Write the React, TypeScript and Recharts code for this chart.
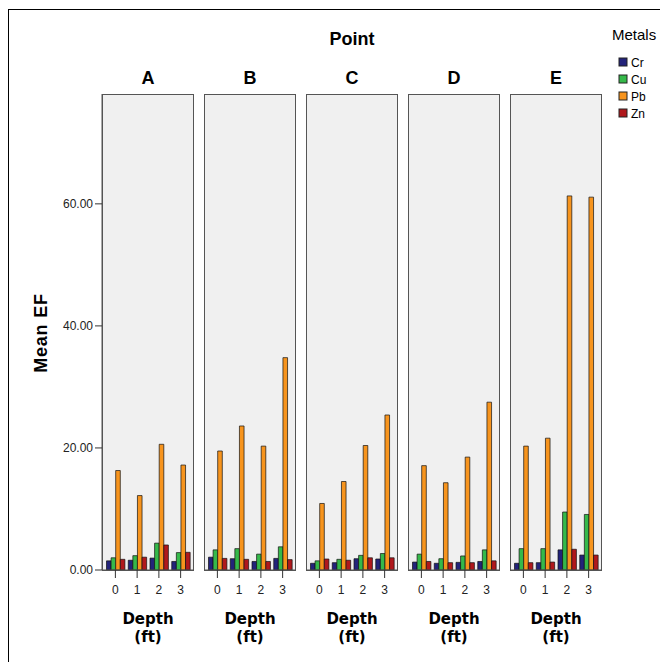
import React from "react";
import { BarChart, Bar, XAxis, YAxis } from "recharts";

const POINTS = ["A", "B", "C", "D", "E"];
const DEPTHS = ["0", "1", "2", "3"];
const METALS = ["Cr", "Cu", "Pb", "Zn"];
const COLORS = ["#23237a", "#35b94a", "#f7941d", "#b0181c"];
const Y_TICKS = [0, 20, 40, 60];

// values per point (A..E), each by depth 0..3
const CR = [
  [1.5, 1.6, 1.95, 1.4],
  [2.1, 1.85, 1.4, 1.9],
  [1.1, 1.2, 1.85, 1.8],
  [1.3, 1.1, 1.25, 1.4],
  [1.1, 1.2, 3.3, 2.45],
];
const CU = [
  [2.0, 2.35, 4.4, 2.85],
  [3.3, 3.5, 2.6, 3.8],
  [1.5, 1.75, 2.4, 2.7],
  [2.6, 1.85, 2.3, 3.3],
  [3.5, 3.5, 9.5, 9.1],
];
const PB = [
  [16.3, 12.2, 20.6, 17.2],
  [19.5, 23.6, 20.3, 34.8],
  [10.9, 14.5, 20.4, 25.4],
  [17.1, 14.3, 18.5, 27.5],
  [20.3, 21.6, 61.3, 61.1],
];
const ZN = [
  [1.75, 2.1, 4.1, 2.9],
  [1.9, 1.75, 1.4, 1.7],
  [1.8, 1.6, 2.0, 2.0],
  [1.4, 1.2, 1.2, 1.5],
  [1.2, 1.3, 3.4, 2.45],
];

const SERIES = [CR, CU, PB, ZN];

const FONT = "'Liberation Sans', Arial, sans-serif";
const PANEL_LEFT = 102;
const PANEL_STEP = 102;
const PANEL_W = 92;
const PANEL_TOP = 94;
const PANEL_H = 476;
const Y_AXIS_W = 60;

function panelData(p: number) {
  return DEPTHS.map((d, j) => {
    const row: any = { depth: d };
    METALS.forEach((m, k) => {
      row[m] = SERIES[k][p][j];
    });
    return row;
  });
}

function Panel({ p }: { p: number }) {
  const plotLeft = PANEL_LEFT + PANEL_STEP * p;
  const first = p === 0;
  const chartLeft = first ? plotLeft - Y_AXIS_W : plotLeft;
  const width = first ? PANEL_W + Y_AXIS_W : PANEL_W;
  return (
    <>
      <div
        style={{
          position: "absolute",
          left: plotLeft,
          top: PANEL_TOP,
          width: PANEL_W,
          height: PANEL_H + 1,
          background: "#f0f0f0",
          border: "1px solid #555",
          boxSizing: "border-box",
        }}
      />
      <div style={{ position: "absolute", left: chartLeft, top: PANEL_TOP }}>
        <BarChart
          width={width}
          height={PANEL_H + 30}
          data={panelData(p)}
          margin={{ top: 0, right: 0, bottom: 0, left: 0 }}
          barGap={0}
          barSize={4.6}
        >
          <XAxis
            dataKey="depth"
            type="category"
            interval={0}
            height={30}
            tickSize={8}
            tickMargin={7}
            padding={{ left: 2.5, right: 2.5 }}
            axisLine={{ stroke: "#555" }}
            tickLine={{ stroke: "#333" }}
            tick={{ fontSize: 12, fill: "#222", fontFamily: FONT }}
          />
          <YAxis
            type="number"
            domain={[0, 78]}
            ticks={Y_TICKS}
            allowDataOverflow
            hide={!first}
            width={Y_AXIS_W}
            tickSize={7}
            tickMargin={2}
            axisLine={{ stroke: "#555" }}
            tickLine={{ stroke: "#333" }}
            tickFormatter={(v: number) => v.toFixed(2)}
            tick={{ fontSize: 12, fill: "#222", fontFamily: FONT }}
          />
          {METALS.map((m, k) => (
            <Bar
              key={m}
              dataKey={m}
              fill={COLORS[k]}
              stroke="#111"
              strokeWidth={0.7}
              isAnimationActive={false}
            />
          ))}
        </BarChart>
      </div>
    </>
  );
}

export default function App() {
  return (
    <div
      style={{
        position: "absolute",
        left: 0,
        top: 0,
        width: 660,
        height: 662,
        overflow: "hidden",
        background: "#fff",
        fontFamily: FONT,
      }}
    >
      <div
        style={{
          position: "absolute",
          left: 8,
          top: 9,
          width: 700,
          height: 700,
          borderTop: "1px solid #000",
          borderLeft: "1px solid #000",
        }}
      />
      {POINTS.map((_, p) => (
        <Panel key={p} p={p} />
      ))}
      <svg
        width={660}
        height={662}
        style={{ position: "absolute", left: 0, top: 0, pointerEvents: "none" }}
      >
        <text x={352} y={45} textAnchor="middle" fontSize={18} fontWeight="bold" fontFamily={FONT} fill="#000">
          Point
        </text>
        {POINTS.map((pt, p) => {
          const cx = PANEL_LEFT + PANEL_STEP * p + PANEL_W / 2;
          return (
            <g key={pt}>
              <text x={cx} y={84} textAnchor="middle" fontSize={18} fontWeight="bold" fontFamily={FONT} fill="#000">
                {pt}
              </text>
              <text x={cx} y={624} textAnchor="middle" fontSize={15} fontWeight="bold" fontFamily="'DejaVu Sans', Verdana, sans-serif" fill="#000">
                Depth
              </text>
              <text x={cx} y={642} textAnchor="middle" fontSize={15} fontWeight="bold" fontFamily="'DejaVu Sans', Verdana, sans-serif" fill="#000">
                (ft)
              </text>
            </g>
          );
        })}
        <text
          x={0}
          y={0}
          transform="translate(46.5,333) rotate(-90)"
          textAnchor="middle"
          fontSize={18}
          fontWeight="bold"
          letterSpacing={0.8}
          fontFamily={FONT}
          fill="#000"
        >
          Mean EF
        </text>
        <text x={612} y={40} fontSize={15} fontFamily={FONT} fill="#000">
          Metals
        </text>
        {METALS.map((m, k) => (
          <g key={m}>
            <rect x={619} y={58 + k * 17} width={8} height={8} fill={COLORS[k]} stroke="#222" strokeWidth={1} />
            <text x={631} y={67 + k * 17} fontSize={12} fontFamily={FONT} fill="#000">
              {m}
            </text>
          </g>
        ))}
      </svg>
    </div>
  );
}
